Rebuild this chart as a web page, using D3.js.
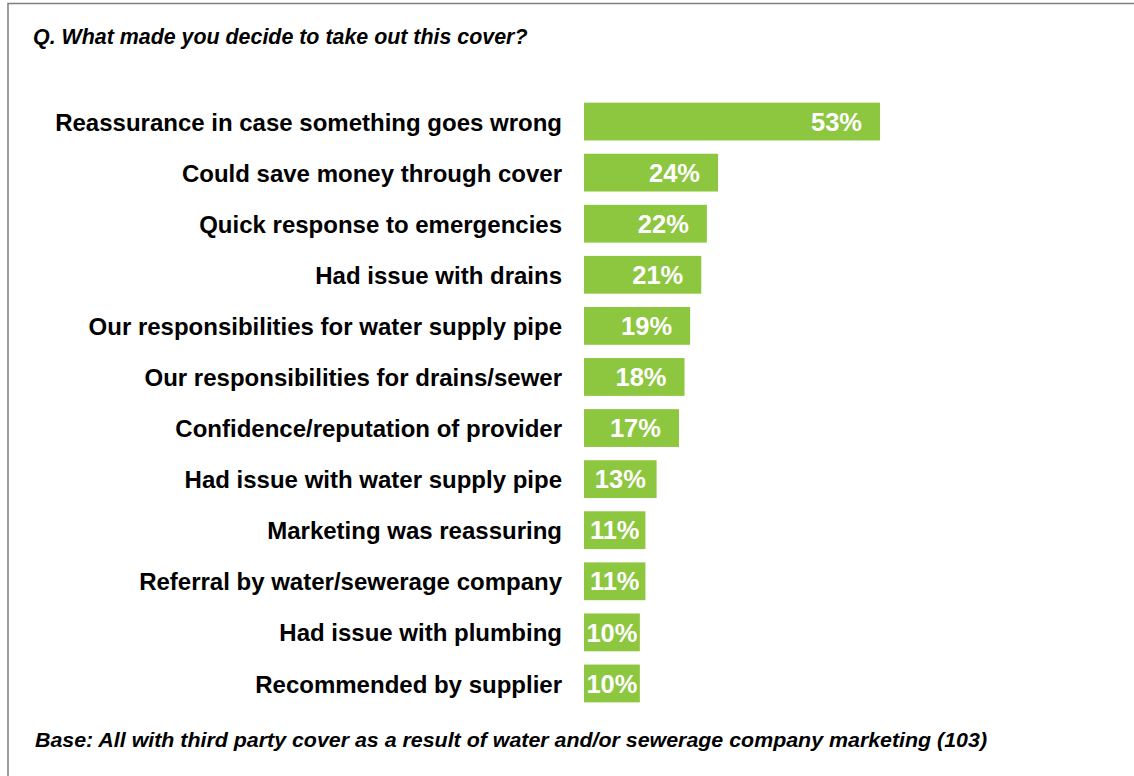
<!DOCTYPE html>
<html>
<head>
<meta charset="utf-8">
<script src="https://cdn.jsdelivr.net/npm/d3@7"></script>
<style>
  html, body { margin: 0; padding: 0; background: #fff; }
  svg { display: block; }
</style>
</head>
<body>
<svg id="chart" width="1134" height="776"></svg>
<script>
// Reasons for taking out cover (share of respondents, %)
const categories = [
  "Reassurance in case something goes wrong",
  "Could save money through cover",
  "Quick response to emergencies",
  "Had issue with drains",
  "Our responsibilities for water supply pipe",
  "Our responsibilities for drains/sewer",
  "Confidence/reputation of provider",
  "Had issue with water supply pipe",
  "Marketing was reassuring",
  "Referral by water/sewerage company",
  "Had issue with plumbing",
  "Recommended by supplier"
];
const values = [53, 24, 22, 21, 19, 18, 17, 13, 11, 11, 10, 10];
const valueLabels = values.map(v => v + "%");

const titleText = "Q. What made you decide to take out this cover?";
const baseText = "Base: All with third party cover as a result of water and/or sewerage company marketing (103)";

const svg = d3.select("#chart");
const fontFamily = "'Liberation Sans', Arial, Helvetica, sans-serif";
const green = "#8dc63f";

// Frame around the slide area
svg.append("path")
  .attr("d", "M8,1200 L8,3.5 L1200,3.5")
  .attr("fill", "none")
  .attr("stroke", "#7f7f7f")
  .attr("stroke-width", 1.5);

// Question heading
svg.append("text")
  .attr("x", 33)
  .attr("y", 44)
  .attr("font-family", fontFamily)
  .attr("font-size", 21.4)
  .attr("font-weight", "bold")
  .attr("font-style", "italic")
  .attr("fill", "#000")
  .text(titleText);

const x0 = 584;
const x = d3.scaleLinear().domain([0, 53]).range([x0, 880]);
const y = d3.scaleBand()
  .domain(categories)
  .range([96, 709])
  .paddingInner(0.26)
  .paddingOuter(0.13);

const g = svg.append("g");

const rows = g.selectAll("g.row")
  .data(categories.map((c, i) => ({ c, v: values[i], label: valueLabels[i] })))
  .join("g")
  .attr("class", "row");

rows.append("rect")
  .attr("x", x(0))
  .attr("y", d => y(d.c))
  .attr("width", d => x(d.v) - x(0))
  .attr("height", y.bandwidth())
  .attr("fill", green);

// Category labels, right-aligned against the bars
rows.append("text")
  .attr("x", 562)
  .attr("y", d => y(d.c) + y.bandwidth() / 2)
  .attr("dy", "0.38em")
  .attr("text-anchor", "end")
  .attr("font-family", fontFamily)
  .attr("font-size", 24)
  .attr("font-weight", "bold")
  .attr("fill", "#000")
  .text(d => d.c);

// Value labels: near the bar end, or centred when the bar is short
rows.append("text")
  .attr("y", d => y(d.c) + y.bandwidth() / 2)
  .attr("dy", "0.36em")
  .attr("text-anchor", "start")
  .attr("font-family", fontFamily)
  .attr("font-size", 25.5)
  .attr("font-weight", "bold")
  .attr("fill", "#fff")
  .text(d => d.label)
  .attr("x", function(d) {
    const w = this.getComputedTextLength();
    const endPos = x(d.v) - 18 - w;
    if (endPos < x(0) + 8) return (x(0) + x(d.v)) / 2 - w / 2;
    return endPos;
  });

// Base note
svg.append("text")
  .attr("x", 35)
  .attr("y", 747)
  .attr("font-family", fontFamily)
  .attr("font-size", 19.5)
  .attr("font-weight", "bold")
  .attr("font-style", "italic")
  .attr("fill", "#000")
  .attr("textLength", 952)
  .attr("lengthAdjust", "spacingAndGlyphs")
  .text(baseText);
</script>
</body>
</html>
